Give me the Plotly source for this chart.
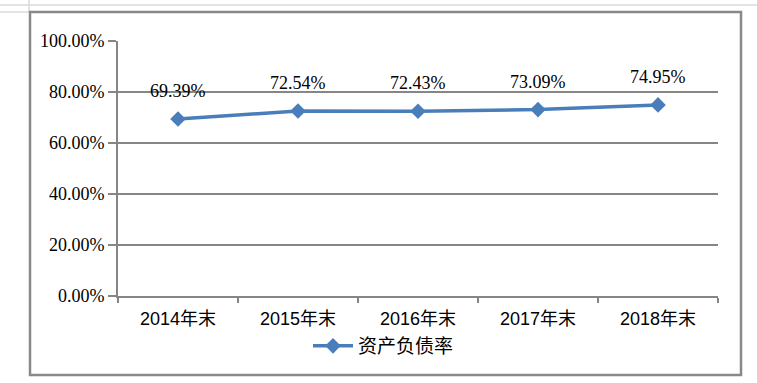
import plotly.graph_objects as go

categories = ["2014年末", "2015年末", "2016年末", "2017年末", "2018年末"]
values = [0.6939, 0.7254, 0.7243, 0.7309, 0.7495]
labels = ["69.39%", "72.54%", "72.43%", "73.09%", "74.95%"]
series_name = "资产负债率"

line_color = "#4A7EBB"
grid_color = "#868686"
serif = "Liberation Serif, Times New Roman, serif"

fig = go.Figure()
fig.add_trace(go.Scatter(
    x=categories, y=values, name=series_name,
    mode="lines+markers",
    line=dict(color=line_color, width=3.5),
    marker=dict(symbol="diamond", size=12, color=line_color),
))

for c, v, t in zip(categories, values, labels):
    fig.add_annotation(x=c, y=v, text=t, showarrow=False, yshift=28,
                       font=dict(family=serif, size=18, color="black"))

def px(x):
    return (x - 118) / 600

def py(y):
    return (296 - y) / 255

shapes = [
    # spreadsheet grid lines
    dict(type="line", xref="paper", yref="paper", x0=px(0), x1=px(757), y0=py(5), y1=py(5),
         line=dict(color="#DADADA", width=1.5)),
    dict(type="line", xref="paper", yref="paper", x0=px(0), x1=px(30), y0=py(12), y1=py(12),
         line=dict(color="#DADADA", width=1.5)),
    dict(type="line", xref="paper", yref="paper", x0=px(29), x1=px(29), y0=py(0), y1=py(12),
         line=dict(color="#DADADA", width=1.5)),
    # chart frame
    dict(type="rect", xref="paper", yref="paper",
         x0=px(30), x1=px(741), y0=py(375), y1=py(12),
         line=dict(color="#898989", width=2.5)),
]

fig.update_layout(
    width=757, height=383,
    margin=dict(l=118, r=39, t=41, b=87),
    paper_bgcolor="white", plot_bgcolor="white",
    shapes=shapes,
    showlegend=True,
    legend=dict(orientation="h", x=px(308), y=py(346), xanchor="left", yanchor="middle",
                itemwidth=40,
                font=dict(family="Noto Sans CJK SC", size=19, color="black"),
                bgcolor="rgba(0,0,0,0)"),
    xaxis=dict(showgrid=False, showline=True, linecolor=grid_color, linewidth=2,
               ticks="outside", tickson="boundaries", ticklen=5, tickcolor=grid_color, tickwidth=2,
               ticklabelstandoff=5,
               tickfont=dict(family="Liberation Sans, Noto Sans CJK SC", size=18, color="black"),
               range=[-0.5, 4.5]),
    yaxis=dict(range=[0, 1], dtick=0.2, tickformat=".2%", showgrid=True, gridcolor=grid_color, gridwidth=2,
               showline=True, linecolor=grid_color, linewidth=2, zeroline=False,
               ticks="outside", ticklen=8, tickcolor=grid_color, tickwidth=2,
               tickfont=dict(family=serif, size=18, color="black")),
)

fig.write_html("out.html", config={"displayModeBar": False},
               post_script="document.body.style.margin='0';document.body.style.overflow='hidden';")
